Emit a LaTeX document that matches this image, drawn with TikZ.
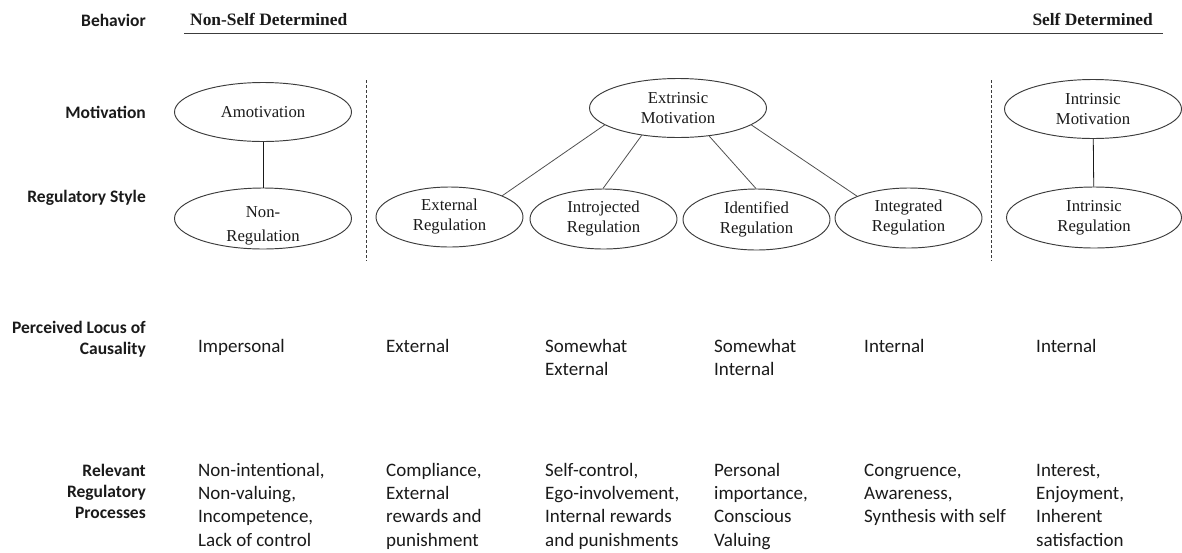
\documentclass[tikz,border=0pt]{standalone}
\usepackage{fontspec}
\setmainfont{Liberation Serif}
\newfontfamily\calibri{Carlito}
\usetikzlibrary{shapes.geometric}

\definecolor{ink}{HTML}{1A1A1A}
\definecolor{rim}{HTML}{3C3C3C}
\definecolor{wire}{HTML}{505050}

\begin{document}
\begin{tikzpicture}[x=1pt,y=-1pt,
  % multi-line nodes anchored at "base" sit on the baseline of their last line
  rowlabel/.style={anchor=base east, align=right, inner sep=0, text=ink,
    font=\calibri\bfseries\fontsize{17.5}{21}\selectfont},
  header/.style={inner sep=0, text=ink, font=\bfseries\fontsize{17.4}{20}\selectfont},
  stagetext/.style={inner sep=0, align=center, text=ink, font=\fontsize{16.7}{20}\selectfont},
  stage/.style={stagetext, ellipse, draw=rim, line width=0.95pt},
  wide/.style={stage, minimum width=177pt, minimum height=59pt},
  narrow/.style={stage, minimum width=147pt, minimum height=60pt},
  cell/.style={anchor=base west, align=left, inner sep=0, text=ink,
    font=\calibri\fontsize{19}{23.3}\selectfont},
  link/.style={draw=wire, line width=0.8pt},
  divider/.style={draw=rim, line width=0.8pt, dash pattern=on 3pt off 2pt}]

\useasboundingbox (0,0) rectangle (1182,552);

% row labels
\node[rowlabel] (lBeh) at (146,26) {Behavior};
\node[rowlabel] (lMot) at (146,118) {Motivation};
\node[rowlabel] (lReg) at (146,202) {Regulatory Style};
\node[rowlabel] (lLoc) at (146,354) {Perceived Locus of\\Causality};
\node[rowlabel] (lPro) at (146,518) {Relevant\\Regulatory\\Processes};

% behaviour scale
\node[header, anchor=base west] (hLeft) at (190,25) {Non-Self Determined};
\node[header, anchor=base east] (hRight) at (1153,25) {Self Determined};
\coordinate (axisL) at (184,33.5);
\coordinate (axisR) at (1163,33.5);
\draw[draw=rim, line width=1.2pt] (axisL) -- (axisR);

% column dividers
\coordinate (d1t) at (366,80);
\coordinate (d1b) at (366,261);
\coordinate (d2t) at (991,80);
\coordinate (d2b) at (991,261);
\draw[divider] (d1t) -- (d1b);
\draw[divider] (d2t) -- (d2b);

% motivation types
\node[wide] (amo) at (263,112) {Amotivation};
\node[wide] (ext) at (678,108) {Extrinsic\\Motivation};
\node[wide] (intm) at (1093,109) {Intrinsic\\Motivation};

% regulatory styles
\node[wide, minimum height=61pt] (nonr) at (263,218.5) {};
\node[stagetext] (nonrText) at (263,225.5) {Non-\\[4pt]Regulation};
\node[narrow] (exr) at (449.5,217) {External\\Regulation};
\node[narrow] (inj) at (603.5,219) {Introjected\\Regulation};
\node[narrow, minimum height=61pt] (idr) at (756.5,219.5) {Identified\\Regulation};
\node[narrow] (itg) at (908.5,218) {Integrated\\Regulation};
\node[wide, minimum width=175pt, minimum height=61pt] (intr) at (1094,217.5) {Intrinsic\\Regulation};

% links
\draw[link, draw=ink] (amo) -- (nonr);
\draw[link, draw=ink] (intm) -- (intr);
\draw[link] (ext.193) -- (exr.22);
\draw[link] (ext.217) -- (inj.91);
\draw[link] (ext.318.6) -- (idr.91);
\draw[link] (ext.347.6) -- (itg.157);

% perceived locus of causality
\node[cell] (c1) at (198,352) {Impersonal};
\node[cell] (c2) at (386,352) {External};
\node[cell] (c3) at (545,375.3) {Somewhat\\External};
\node[cell] (c4) at (714,375.3) {Somewhat\\Internal};
\node[cell] (c5) at (864,352) {Internal};
\node[cell] (c6) at (1036,352) {Internal};

% relevant regulatory processes
\node[cell] (p1) at (198,546) {Non-intentional,\\Non-valuing,\\Incompetence,\\Lack of control};
\node[cell] (p2) at (386,546) {Compliance,\\External\\rewards and\\punishment};
\node[cell] (p3) at (545,546) {Self-control,\\Ego-involvement,\\Internal rewards\\and punishments};
\node[cell] (p4) at (714,546) {Personal\\importance,\\Conscious\\Valuing};
\node[cell] (p5) at (864,522.6) {Congruence,\\Awareness,\\Synthesis with self};
\node[cell] (p6) at (1036,546) {Interest,\\Enjoyment,\\Inherent\\satisfaction};

\end{tikzpicture}
\end{document}
